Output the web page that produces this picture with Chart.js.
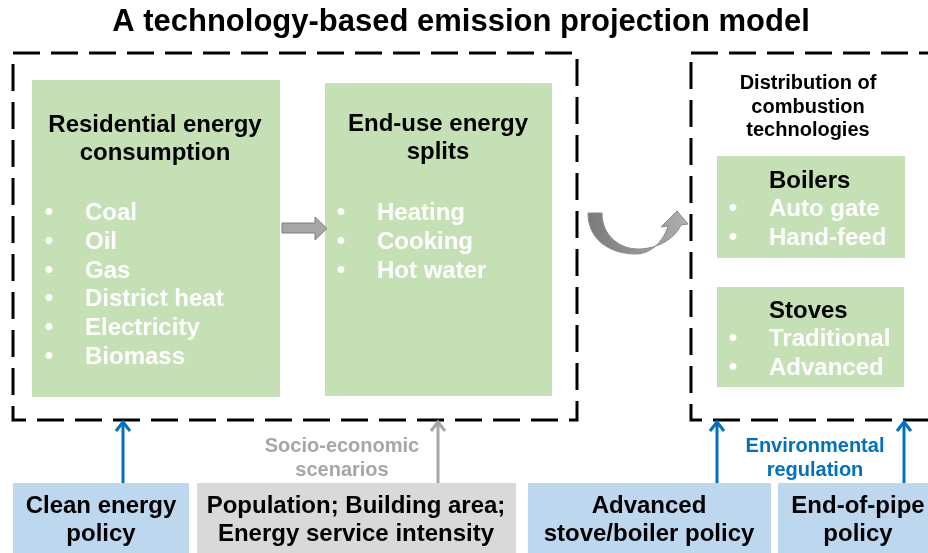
<!DOCTYPE html>
<html>
<head>
<meta charset="utf-8">
<script src="https://cdn.jsdelivr.net/npm/chart.js@4.4.0/dist/chart.umd.min.js"></script>
<style>
  html, body { margin: 0; padding: 0; background: #fff; }
  #wrap { width: 928px; height: 553px; }
</style>
</head>
<body>
<div id="wrap"><canvas id="diagram"></canvas></div>
<script>
// Texts of the diagram
const title = 'A technology-based emission projection model';
const consumptionTitle = ['Residential energy', 'consumption'];
const fuels = ['Coal', 'Oil', 'Gas', 'District heat', 'Electricity', 'Biomass'];
const splitsTitle = ['End-use energy', 'splits'];
const endUses = ['Heating', 'Cooking', 'Hot water'];
const techTitle = ['Distribution of', 'combustion', 'technologies'];
const boilerTypes = ['Auto gate', 'Hand-feed'];
const stoveTypes = ['Traditional', 'Advanced'];
const socioLabel = ['Socio-economic', 'scenarios'];
const envLabel = ['Environmental', 'regulation'];
const drivers = [
  ['Clean energy', 'policy'],
  ['Population; Building area;', 'Energy service intensity'],
  ['Advanced', 'stove/boiler policy'],
  ['End-of-pipe', 'policy']
];

const FONT = '"Liberation Sans", Arial, sans-serif';
const GREEN = '#c5e0b4';
const BLUE = '#0070c0';
const GREY = '#a6a6a6';

// Layout (axis units, 1 unit = 1 px)
const frames = [
  { x0: 13, x1: 577, y0: 53, y1: 420 },
  { x0: 691, x1: 950, y0: 53, y1: 420 }
];
const panels = [
  { x0: 32, x1: 280, y0: 80, y1: 397, head: consumptionTitle, headX: 155, headAlign: 'center', headY: 132, items: fuels, bulletX: 49, textX: 85, itemY: 220 },
  { x0: 325, x1: 552, y0: 83, y1: 396, head: splitsTitle, headX: 438, headAlign: 'center', headY: 131, items: endUses, bulletX: 341, textX: 377, itemY: 220 },
  { x0: 717, x1: 905, y0: 156, y1: 258, head: ['Boilers'], headX: 769, headAlign: 'left', headY: 188, items: boilerTypes, bulletX: 733, textX: 769, itemY: 216 },
  { x0: 717, x1: 904, y0: 287, y1: 387, head: ['Stoves'], headX: 769, headAlign: 'left', headY: 318, items: stoveTypes, bulletX: 733, textX: 769, itemY: 346 }
];
const driverBoxes = [
  { x0: 13, x1: 189, fill: '#bdd7ee', cx: 101 },
  { x0: 197, x1: 516, fill: '#d9d9d9', cx: 356 },
  { x0: 528, x1: 771, fill: '#bdd7ee', cx: 649 },
  { x0: 778, x1: 950, fill: '#bdd7ee', cx: 858 }
];
const arrows = [
  { x: 123, color: BLUE },
  { x: 438, color: GREY },
  { x: 717, color: BLUE },
  { x: 904, color: BLUE }
];

function framePoints(f) {
  return [
    { x: f.x0, y: f.y0 }, { x: f.x1, y: f.y0 }, { x: f.x1, y: f.y1 },
    { x: f.x0, y: f.y1 }, { x: f.x0, y: f.y0 }
  ];
}

const datasets = [];
frames.forEach(f => datasets.push({
  data: framePoints(f), showLine: true, fill: false, pointRadius: 0,
  borderColor: '#000', borderWidth: 3, borderDash: [27, 11], borderCapStyle: 'butt'
}));
arrows.forEach(a => datasets.push({
  data: [{ x: a.x, y: 483 }, { x: a.x, y: 422 }], showLine: true, fill: false, pointRadius: 0,
  borderColor: a.color, borderWidth: 3
}));

const diagramPlugin = {
  id: 'diagram',
  beforeDatasetsDraw(chart) {
    const ctx = chart.ctx;
    const px = v => chart.scales.x.getPixelForValue(v);
    const py = v => chart.scales.y.getPixelForValue(v);
    ctx.save();
    panels.forEach(p => {
      ctx.fillStyle = GREEN;
      ctx.fillRect(px(p.x0), py(p.y0), px(p.x1) - px(p.x0), py(p.y1) - py(p.y0));
    });
    driverBoxes.forEach(b => {
      ctx.fillStyle = b.fill;
      ctx.fillRect(px(b.x0), py(483), px(b.x1) - px(b.x0), py(560) - py(483));
    });
    ctx.restore();
  },
  afterDatasetsDraw(chart) {
    const ctx = chart.ctx;
    const px = v => chart.scales.x.getPixelForValue(v);
    const py = v => chart.scales.y.getPixelForValue(v);
    ctx.save();
    ctx.textBaseline = 'alphabetic';

    // title
    ctx.fillStyle = '#000';
    ctx.font = 'bold 31px ' + FONT;
    ctx.textAlign = 'center';
    ctx.fillText(title, px(461), py(31));

    // panels
    panels.forEach(p => {
      ctx.fillStyle = '#000';
      ctx.font = 'bold 24px ' + FONT;
      ctx.textAlign = p.headAlign;
      p.head.forEach((t, i) => ctx.fillText(t, px(p.headX), py(p.headY + i * 27.5)));
      ctx.fillStyle = '#fff';
      p.items.forEach((t, i) => {
        const y = p.itemY + i * 28.8;
        ctx.textAlign = 'center';
        ctx.font = 'bold 24px ' + FONT;
        ctx.fillText('\u2022', px(p.bulletX), py(y - 1));
        ctx.textAlign = 'left';
        ctx.fillText(t, px(p.textX), py(y));
      });
    });

    // distribution heading
    ctx.fillStyle = '#000';
    ctx.font = 'bold 20px ' + FONT;
    ctx.textAlign = 'center';
    techTitle.forEach((t, i) => ctx.fillText(t, px(808), py(89 + i * 23.5)));

    // labels over arrows
    ctx.fillStyle = GREY;
    socioLabel.forEach((t, i) => ctx.fillText(t, px(342), py(452 + i * 24)));
    ctx.fillStyle = BLUE;
    envLabel.forEach((t, i) => ctx.fillText(t, px(815), py(452 + i * 24)));

    // driver boxes text
    ctx.fillStyle = '#000';
    ctx.font = 'bold 24px ' + FONT;
    driverBoxes.forEach((b, k) => {
      drivers[k].forEach((t, i) => ctx.fillText(t, px(b.cx), py(513 + i * 28)));
    });

    // arrow heads
    ctx.lineWidth = 3;
    ctx.lineCap = 'butt';
    ctx.lineJoin = 'miter';
    arrows.forEach(a => {
      ctx.strokeStyle = a.color;
      ctx.beginPath();
      ctx.moveTo(px(a.x - 7), py(431));
      ctx.lineTo(px(a.x), py(422));
      ctx.lineTo(px(a.x + 7), py(431));
      ctx.stroke();
    });

    // block arrow between panels
    ctx.fillStyle = GREY;
    ctx.strokeStyle = '#7f7f7f';
    ctx.lineWidth = 1;
    ctx.beginPath();
    [[282, 223], [315, 223], [315, 217], [327, 228.5], [315, 240], [315, 233], [282, 233]]
      .forEach(([x, y], i) => i ? ctx.lineTo(px(x), py(y)) : ctx.moveTo(px(x), py(y)));
    ctx.closePath();
    ctx.fill();
    ctx.stroke();

    // curved arrow
    const g = ctx.createLinearGradient(px(588), 0, px(690), 0);
    g.addColorStop(0, '#7a7a7a');
    g.addColorStop(1, '#b0b0b0');
    ctx.fillStyle = g;
    ctx.strokeStyle = '#8a8a8a';
    ctx.beginPath();
    ctx.moveTo(px(588), py(213));
    ctx.bezierCurveTo(px(588), py(240), px(610), py(254), px(636), py(254));
    ctx.bezierCurveTo(px(652), py(254), px(664), py(240), px(668), py(226));
    ctx.lineTo(px(661), py(227));
    ctx.lineTo(px(677), py(211));
    ctx.lineTo(px(688), py(224));
    ctx.lineTo(px(681), py(225));
    ctx.bezierCurveTo(px(674), py(240), px(656), py(249), px(638), py(249));
    ctx.bezierCurveTo(px(620), py(249), px(602), py(236), px(602), py(213));
    ctx.closePath();
    ctx.fill();
    ctx.stroke();
    ctx.restore();
  }
};

new Chart(document.getElementById('diagram'), {
  type: 'scatter',
  data: { datasets },
  options: {
    responsive: true,
    maintainAspectRatio: false,
    animation: false,
    layout: { padding: 0 },
    plugins: { legend: { display: false }, tooltip: { enabled: false } },
    scales: {
      x: { type: 'linear', min: 0, max: 928, display: false },
      y: { type: 'linear', min: 0, max: 553, reverse: true, display: false }
    }
  },
  plugins: [diagramPlugin]
});
</script>
</body>
</html>
